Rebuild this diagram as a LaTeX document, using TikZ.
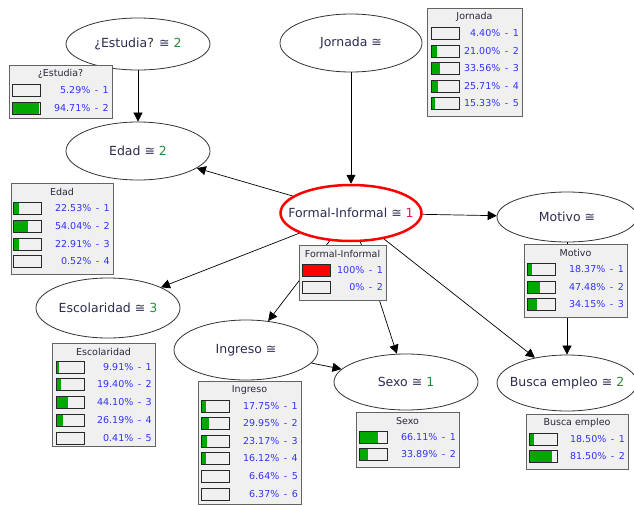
\documentclass[tikz,border=0pt]{standalone}
\usepackage{fontspec}
\setmainfont{DejaVu Sans}
\usetikzlibrary{shapes.geometric,arrows.meta}
\definecolor{pblue}{RGB}{50,50,250}
\definecolor{pgreen}{RGB}{0,168,0}
\definecolor{boxfill}{RGB}{240,240,240}
\definecolor{boxline}{RGB}{100,100,100}
\definecolor{bardraw}{RGB}{40,40,40}
\definecolor{lbltext}{RGB}{45,45,80}
\definecolor{numgreen}{RGB}{40,140,60}
\definecolor{numred}{RGB}{235,20,90}
\definecolor{ttltext}{RGB}{40,40,60}
\tikzset{
  bnode/.style={ellipse, draw=black!80, line width=0.8pt, fill=white, inner sep=0pt},
  lbl/.style={font=\fontsize{12.5}{14}\selectfont, text=lbltext, inner sep=0pt},
  conn/.style={draw=black, line width=0.7pt, -{Triangle[length=9pt,width=9pt]}},
  pbox/.style={draw=boxline, fill=boxfill, line width=0.8pt},
  ptitle/.style={font=\fontsize{9.5}{11}\selectfont, text=ttltext, inner sep=0pt},
  ptext/.style={font=\fontsize{9.5}{11}\selectfont, text=pblue, anchor=east, inner sep=0pt},
  barfr/.style={draw=bardraw, line width=1pt},
}
\newcommand\pv[2]{#1\%\hspace{4.5pt}-\hspace{4.5pt}#2}
% name, bar x, y, bar percent, text, right x
\newcommand\prow[6]{%
  \fill[pgreen] (#2,#3-6) rectangle ({#2+0.28*#4},#3+6);
  \draw[barfr] (#2,#3-6) rectangle (#2+28,#3+6);
  \node[ptext] (#1) at (#6,#3) {#5};
}
% name, x0, y0, x1, y1, title
\newcommand\pbx[6]{%
  \draw[pbox] (#2,#3) rectangle (#4,#5);
  \node[ptitle] (#1) at ({(#2+#4)/2},#3+9) {#6};
}
\begin{document}
\begin{tikzpicture}[x=1pt,y=-1pt]
\useasboundingbox[fill=white] (0,0) rectangle (634,506);

% ellipses
\node[bnode, minimum width=144pt, minimum height=52pt] (est) at (138,44) {};
\node[lbl] (estl) at (est) {¿Estudia? ≅ \textcolor{numgreen}{2}};
\node[bnode, minimum width=142pt, minimum height=58pt] (jor) at (351,43) {};
\node[lbl] (jorl) at (jor) {Jornada ≅};
\node[bnode, minimum width=144pt, minimum height=58pt] (edad) at (138,151) {};
\node[lbl] (edadl) at (edad) {Edad ≅ \textcolor{numgreen}{2}};
\node[bnode, draw=red, line width=2.5pt, minimum width=141pt, minimum height=56pt] (fi) at (351,213) {};
\node[lbl] (fil) at (fi) {Formal-Informal ≅ \textcolor{numred}{1}};
\node[bnode, minimum width=140pt, minimum height=50pt] (mot) at (567,217) {};
\node[lbl] (motl) at (mot) {Motivo ≅};
\node[bnode, minimum width=144pt, minimum height=60pt] (esc) at (108,308) {};
\node[lbl] (escl) at (esc) {Escolaridad ≅ \textcolor{numgreen}{3}};
\node[bnode, minimum width=144pt, minimum height=60pt] (ing) at (246,350) {};
\node[lbl] (ingl) at (ing) {Ingreso ≅};
\node[bnode, minimum width=144pt, minimum height=56pt] (sexo) at (406,382) {};
\node[lbl] (sexol) at (sexo) {Sexo ≅ \textcolor{numgreen}{1}};
\node[bnode, minimum width=140pt, minimum height=56pt] (busca) at (567,383) {};
\node[lbl] (buscal) at (busca) {Busca empleo ≅ \textcolor{numgreen}{2}};

% connectors
\draw[conn] (est) -- (edad);
\draw[conn] (jor) -- (fi);
\draw[conn] (fi) -- (edad);
\draw[conn] (fi) -- (mot);
\draw[conn] (fi) -- (esc);
\draw[conn] (fi) -- (ing);
\draw[conn] (fi) -- (sexo);
\draw[conn] (fi) -- (busca);
\draw[conn] (ing) -- (sexo);
\draw[conn] (mot) -- (busca);

% probability boxes
\pbx{estt}{9}{65}{112}{118}{¿Estudia?}
\prow{est1}{12}{90}{0}{\pv{5.29}{1}}{109}
\prow{est2}{12}{108}{94.71}{\pv{94.71}{2}}{109}

\pbx{jort}{427}{8}{522}{116}{Jornada}
\prow{jor1}{431}{33}{0}{\pv{4.40}{1}}{519}
\prow{jor2}{431}{51}{21.00}{\pv{21.00}{2}}{519}
\prow{jor3}{431}{68}{33.56}{\pv{33.56}{3}}{519}
\prow{jor4}{431}{86}{25.71}{\pv{25.71}{4}}{519}
\prow{jor5}{431}{103}{15.33}{\pv{15.33}{5}}{519}

\pbx{edadt}{11}{183}{113}{274}{Edad}
\prow{edad1}{13}{208}{22.53}{\pv{22.53}{1}}{110}
\prow{edad2}{13}{226}{54.04}{\pv{54.04}{2}}{110}
\prow{edad3}{13}{244}{22.91}{\pv{22.91}{3}}{110}
\prow{edad4}{13}{261}{0}{\pv{0.52}{4}}{110}

\pbx{fit}{299}{245}{386}{300}{Formal-Informal}
\fill[red] (302,264) rectangle (330,276);
\draw[barfr] (302,264) rectangle (330,276);
\node[ptext] (fi1) at (383,270) {100\%\hspace{4.5pt}-\hspace{4.5pt}1};
\prow{fi2}{302}{287}{0}{\pv{0}{2}}{383}

\pbx{mott}{524}{244}{627}{317}{Motivo}
\prow{mot1}{527}{269}{18.37}{\pv{18.37}{1}}{624}
\prow{mot2}{527}{287}{47.48}{\pv{47.48}{2}}{624}
\prow{mot3}{527}{304}{34.15}{\pv{34.15}{3}}{624}

\pbx{esct}{52}{343}{155}{446}{Escolaridad}
\prow{esc1}{56}{367}{9.91}{\pv{9.91}{1}}{152}
\prow{esc2}{56}{384}{19.40}{\pv{19.40}{2}}{152}
\prow{esc3}{56}{402}{44.10}{\pv{44.10}{3}}{152}
\prow{esc4}{56}{420}{26.19}{\pv{26.19}{4}}{152}
\prow{esc5}{56}{438}{0}{\pv{0.41}{5}}{152}

\pbx{ingt}{198}{381}{301}{504}{Ingreso}
\prow{ing1}{201}{406}{17.75}{\pv{17.75}{1}}{298}
\prow{ing2}{201}{423}{29.95}{\pv{29.95}{2}}{298}
\prow{ing3}{201}{441}{23.17}{\pv{23.17}{3}}{298}
\prow{ing4}{201}{458}{16.12}{\pv{16.12}{4}}{298}
\prow{ing5}{201}{476}{0}{\pv{6.64}{5}}{298}
\prow{ing6}{201}{494}{0}{\pv{6.37}{6}}{298}

\pbx{sexot}{356}{412}{459}{467}{Sexo}
\prow{sexo1}{359}{437}{66.11}{\pv{66.11}{1}}{456}
\prow{sexo2}{359}{454}{33.89}{\pv{33.89}{2}}{456}

\pbx{buscat}{526}{414}{628}{469}{Busca empleo}
\prow{busca1}{529}{439}{18.50}{\pv{18.50}{1}}{625}
\prow{busca2}{529}{456}{81.50}{\pv{81.50}{2}}{625}
\end{tikzpicture}
\end{document}
